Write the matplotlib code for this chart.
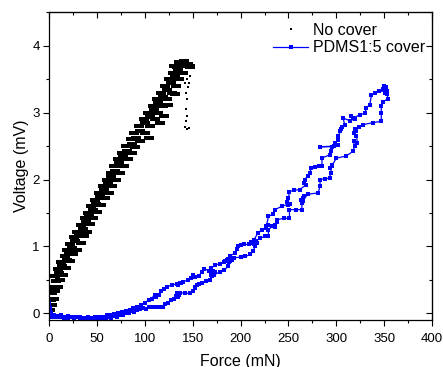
import matplotlib
matplotlib.use("Agg")
import matplotlib.pyplot as plt
from matplotlib.path import Path
from matplotlib.lines import Line2D
from matplotlib.ticker import MultipleLocator

plt.rcParams['font.family'] = ['Liberation Sans', 'DejaVu Sans']

# ---- No cover (black clusters: each value is a read-off blob centre) ----
nc_x = [1.0, 3, 1.5, 5, 2.5, 6, 4, 9, 7, 11, 6, 10, 14, 9, 13, 17, 12, 18, 22, 16, 21, 25, 19,
        24, 29, 22, 27, 33, 26, 31, 36, 29, 35, 39, 33, 38, 43, 37, 42, 46, 40, 46, 50, 44, 49,
        54, 48, 53, 58, 52, 57, 62, 56, 61, 66, 60, 65, 70, 64, 69, 74, 68, 73, 78, 72, 77, 82,
        76, 81, 86, 80, 86, 90, 85, 91, 95, 89, 95, 100, 94, 100, 105, 99, 105, 110, 103, 109,
        114, 108, 114, 119, 113, 119, 123, 117, 123, 128, 121, 127, 132, 125, 131, 136, 129, 135,
        140, 133, 138, 142, 136, 141, 145, 147, 130, 120, 124, 131, 116, 104]
nc_y = [0.05, 0.12, 0.2, 0.22, 0.3, 0.33, 0.4, 0.4, 0.48, 0.5, 0.56, 0.6, 0.58, 0.66, 0.7, 0.68,
        0.76, 0.8, 0.78, 0.86, 0.9, 0.88, 0.95, 0.98, 0.95, 1.03, 1.08, 1.05, 1.14, 1.18, 1.15,
        1.22, 1.26, 1.22, 1.32, 1.36, 1.33, 1.42, 1.46, 1.43, 1.5, 1.55, 1.52, 1.6, 1.64, 1.62,
        1.7, 1.74, 1.72, 1.8, 1.84, 1.8, 1.9, 1.94, 1.9, 2.0, 2.04, 2.0, 2.1, 2.13, 2.1, 2.2,
        2.24, 2.2, 2.3, 2.34, 2.3, 2.4, 2.43, 2.4, 2.5, 2.53, 2.48, 2.6, 2.62, 2.58, 2.7, 2.73,
        2.7, 2.8, 2.84, 2.8, 2.9, 2.94, 2.9, 3.0, 3.04, 3.0, 3.1, 3.14, 3.1, 3.2, 3.24, 3.2, 3.3,
        3.34, 3.3, 3.4, 3.44, 3.4, 3.5, 3.54, 3.5, 3.6, 3.63, 3.6, 3.68, 3.72, 3.7, 3.76, 3.77,
        3.72, 3.68, 3.7, 2.95, 3.12, 3.28, 2.85, 2.62]
# sparse dots of the falling tail
tail_x = [143, 144, 142, 145, 143, 144, 143, 144, 143, 142, 144, 146, 151, 147, 146]
tail_y = [3.6, 3.5, 3.45, 3.38, 3.3, 3.2, 3.05, 2.95, 2.88, 2.78, 2.76, 2.77, 3.71, 3.55, 3.45]

# ---- PDMS1:5 cover (blue path) ----
pd_x = [0, 0.5, 0, 1, 0.5, 2, 3, 5, 7, 9, 11, 13, 15, 18, 20, 23, 26, 29, 32, 35, 38, 41, 44, 47,
        50, 53, 56, 59, 62, 65, 68, 71, 74, 77, 80, 83, 86, 89, 92, 95,
        98, 101, 104, 108, 112, 116, 119, 121, 124, 127, 130, 132, 134, 136, 133, 137, 142, 147,
        150, 152, 154, 152, 156, 160, 164, 168, 170, 171, 169, 173, 172, 178, 183, 187, 189, 191,
        188, 193, 200, 205, 210, 213, 215, 217, 214, 216, 220, 225, 229, 229, 233, 236, 238, 236,
        238, 245, 251, 251, 258, 264, 264, 265, 263, 266, 265, 270, 281, 283, 283, 288, 293, 294,
        295, 293, 296, 300, 310, 317.5, 319, 318, 322, 321, 318, 321, 320, 324, 328, 338, 347, 347,
        347, 349, 354, 353, 351, 349, 352, 353, 350, 351,
        345, 340, 336.7, 335, 331.5, 329.7, 325, 317.5, 315, 319, 314, 307, 308.8, 306, 304, 305,
        302, 301.8, 299, 302, 298, 283, 295, 294, 293, 285, 285, 282, 278, 274, 272, 270, 267,
        266, 268, 262, 256, 251, 250, 250, 248, 252, 243, 236, 234, 229, 227, 229, 226, 222, 218,
        214, 211, 213, 209, 204, 200, 197, 196, 194, 189, 186, 184, 187, 183, 178, 173, 169, 171,
        167, 162, 160, 156, 152, 150, 148, 145, 140, 137, 135, 138, 133, 128, 123, 120, 117, 115,
        112, 110, 107, 104, 100, 96, 92, 88, 84, 80, 76, 72, 68, 64, 60, 56, 52, 48, 44, 40, 36,
        32, 28, 24, 20, 16, 12, 8, 4, 1, 0]
pd_y = [0.15, 0.08, 0.12, 0.02, -0.03, 0.0, -0.05, -0.03, -0.06, -0.04, -0.06, -0.05, -0.07,
        -0.05, -0.07, -0.06, -0.08, -0.06, -0.08, -0.07, -0.09, -0.07, -0.09, -0.08, -0.09, -0.07,
        -0.09, -0.07, -0.06, -0.07, -0.04, -0.05, -0.02, -0.03, 0.0, 0.01, 0.03, 0.02, 0.05, 0.06,
        0.08, 0.07, 0.09, 0.09, 0.1, 0.1, 0.1, 0.14, 0.16, 0.2, 0.22, 0.26, 0.24, 0.28, 0.3, 0.31,
        0.3, 0.3, 0.33, 0.38, 0.43, 0.4, 0.44, 0.45, 0.48, 0.5, 0.56, 0.6, 0.58, 0.62, 0.57, 0.62,
        0.65, 0.7, 0.78, 0.8, 0.76, 0.83, 0.84, 0.85, 0.88, 0.93, 1.0, 1.05, 1.03, 1.08, 1.12,
        1.15, 1.15, 1.25, 1.3, 1.32, 1.36, 1.29, 1.4, 1.42, 1.42, 1.55, 1.55, 1.55, 1.65, 1.72,
        1.7, 1.75, 1.68, 1.78, 1.8, 1.9, 2.0, 2.01, 2.02, 2.1, 2.2, 2.17, 2.22, 2.32, 2.35, 2.42,
        2.5, 2.57, 2.55, 2.65, 2.69, 2.72, 2.75, 2.78, 2.82, 2.85, 2.87, 3.0, 3.1, 3.16, 3.21,
        3.28, 3.3, 3.36, 3.38, 3.33, 3.4, 3.32,
        3.32, 3.3, 3.26, 3.12, 3.07, 2.99, 2.97, 2.92, 2.95, 2.9, 2.88, 2.92, 2.82, 2.78, 2.72,
        2.75, 2.65, 2.59, 2.55, 2.52, 2.5, 2.49, 2.49, 2.42, 2.37, 2.32, 2.2, 2.2, 2.19, 2.17,
        2.1, 2.05, 2.0, 1.95, 1.92, 1.85, 1.84, 1.82, 1.72, 1.62, 1.66, 1.64, 1.6, 1.55, 1.48,
        1.45, 1.3, 1.32, 1.27, 1.25, 1.2, 1.1, 1.06, 1.05, 1.03, 1.03, 1.02, 1.0, 0.96, 0.9, 0.86,
        0.8, 0.78, 0.81, 0.76, 0.74, 0.72, 0.67, 0.63, 0.64, 0.66, 0.62, 0.56, 0.54, 0.57, 0.53,
        0.5, 0.47, 0.45, 0.43, 0.46, 0.44, 0.42, 0.4, 0.36, 0.33, 0.27, 0.25, 0.28, 0.22, 0.2,
        0.16, 0.12, 0.1, 0.08, 0.05, 0.04, 0.02, 0.0, -0.01, -0.02, -0.03, -0.05, -0.06, -0.06,
        -0.07, -0.05, -0.07, -0.06, -0.05, -0.06, -0.04, -0.05, -0.03, -0.04, -0.02, 0.0, 0.05]

x_ticks = [0, 50, 100, 150, 200, 250, 300, 350, 400]
y_ticks = [0, 1, 2, 3, 4]

fig = plt.figure(figsize=(4.43, 3.67), dpi=100)
ax = fig.add_axes([49.3 / 443, 1 - 320 / 367, (432 - 49.3) / 443, (320 - 12.3) / 367])

dash = Path([(-1.0, -0.45), (1.0, -0.45), (1.0, 0.45), (-1.0, 0.45), (-1.0, -0.45)],
            [Path.MOVETO, Path.LINETO, Path.LINETO, Path.LINETO, Path.CLOSEPOLY])
ax.plot(nc_x, nc_y, linestyle='none', marker=dash, markersize=7.0, color='black',
        markeredgewidth=0)
ax.plot(tail_x, tail_y, linestyle='none', marker='s', markersize=2.0, color='black',
        markeredgewidth=0)
ax.plot(pd_x, pd_y, '-', color='#0000ff', linewidth=0.9, marker='s', markersize=2.8,
        markeredgewidth=0)

ax.set_xlim(0, 400)
ax.set_ylim(-0.1, 4.5)
ax.set_xticks(x_ticks)
ax.set_yticks(y_ticks)
ax.xaxis.set_minor_locator(MultipleLocator(25))
ax.yaxis.set_minor_locator(MultipleLocator(0.5))
ax.tick_params(which='both', direction='out', labelsize=9.5, width=0.8)
ax.tick_params(axis='x', which='both', pad=5.5)
ax.tick_params(axis='y', which='both', pad=3)
ax.tick_params(which='major', length=4)
ax.tick_params(which='minor', length=2.5)
for s in ax.spines.values():
    s.set_linewidth(0.9)

top = ax.secondary_xaxis('top')
top.set_xticks(x_ticks)
top.xaxis.set_minor_locator(MultipleLocator(25))
top.tick_params(which='both', direction='in', labeltop=False, width=0.8)
top.tick_params(which='major', length=4)
top.tick_params(which='minor', length=2.5)
right = ax.secondary_yaxis('right')
right.set_yticks(y_ticks)
right.yaxis.set_minor_locator(MultipleLocator(0.5))
right.tick_params(which='both', direction='in', labelright=False, width=0.8)
right.tick_params(which='major', length=4)
right.tick_params(which='minor', length=2.5)

ax.set_xlabel('Force (mN)', fontsize=11.5, labelpad=6)
ax.set_ylabel('Voltage (mV)', fontsize=11.5, labelpad=2.5)

h1 = Line2D([], [], linestyle='none', marker='s', markersize=2.0, color='black',
            markeredgewidth=0)
h2 = Line2D([], [], color='#0000ff', linewidth=0.9, marker='s', markersize=2.6,
            markeredgewidth=0)
ax.legend([h1, h2], ['No cover', 'PDMS1:5 cover'], loc='upper left',
          bbox_to_anchor=(0.5845, 0.965), frameon=False, fontsize=11.5,
          borderpad=0, borderaxespad=0, handlelength=2.2, handletextpad=0.3,
          labelspacing=0.15, markerscale=1, numpoints=1)

fig.savefig('out.png', dpi=100)
